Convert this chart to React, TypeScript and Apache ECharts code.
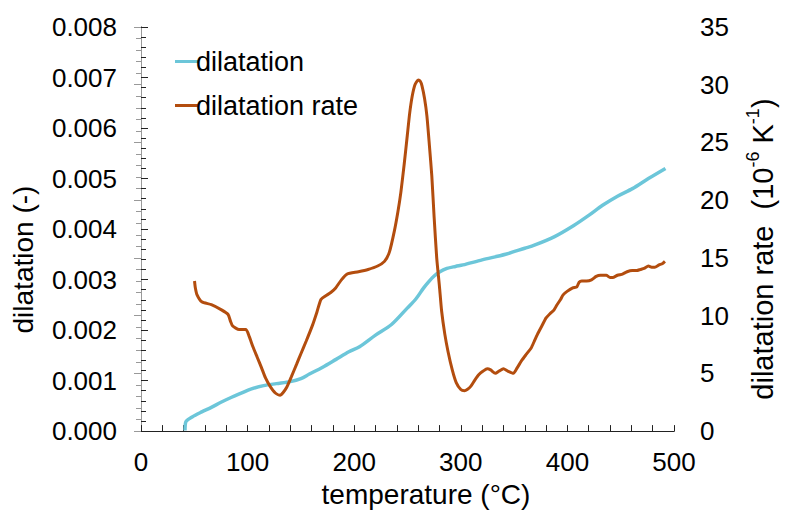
import React, { useEffect, useRef } from "react";
import * as echarts from "echarts";

// Dilatation (left axis) — temperature (°C) and value (-)
const dilTemp = [41.3, 42, 48, 57, 66, 75, 85, 94, 103, 115, 127, 140, 150, 158, 170, 183, 195, 205, 220, 235, 250, 258, 265, 270, 275, 280, 287, 295, 302, 320, 342, 360, 369, 388, 406, 420, 433, 447, 461, 476, 492];
const dilValue = [0.00001, 0.00018, 0.00028, 0.00038, 0.00047, 0.00057, 0.00067, 0.00075, 0.00083, 0.0009, 0.00094, 0.00098, 0.00104, 0.00113, 0.00126, 0.00142, 0.00157, 0.00167, 0.0019, 0.00211, 0.00244, 0.00262, 0.00283, 0.00296, 0.00307, 0.00315, 0.00322, 0.00326, 0.00329, 0.00339, 0.0035, 0.00362, 0.00368, 0.00385, 0.00407, 0.00427, 0.00447, 0.00465, 0.0048, 0.005, 0.0052];

// Dilatation rate (right axis) — temperature (°C) and value (10^-6 K^-1)
const rateTemp = [50.2, 51, 52.6, 57, 66, 75.5, 81.7, 84, 86, 92, 98.5, 101.5, 105, 109, 113, 116.8, 121, 126, 130.6, 133, 136.7, 141, 146, 150, 155, 161, 165, 168.8, 173, 178, 182.6, 188, 193.3, 204, 213, 222, 228.4, 233, 237.6, 241, 243.8, 247, 249.8, 252, 254.4, 257, 260, 262, 263.6, 266, 268.2, 270.5, 272.8, 275, 277.4, 280, 282, 285, 288, 292, 295.7, 300, 303.4, 306, 309.5, 313, 317, 321, 324.8, 328, 332.4, 336, 340, 344, 349.3, 353, 357, 361, 366, 369, 372, 376, 380, 384, 387.5, 390, 393.6, 396, 399.7, 405, 408.9, 411, 413.5, 418, 422.6, 427, 431, 436.4, 440, 442.5, 447, 451.7, 456, 460.8, 465, 468.5, 472, 476, 479, 482, 486, 489, 491.5];
const rateValue = [13.0, 12.4, 11.8, 11.2, 10.95, 10.5, 10.1, 9.5, 9.1, 8.8, 8.8, 8.2, 7.3, 6.4, 5.5, 4.6, 3.9, 3.3, 3.1, 3.3, 3.8, 4.7, 5.8, 6.7, 7.8, 9.2, 10.3, 11.4, 11.7, 12.0, 12.4, 13.1, 13.6, 13.8, 14.0, 14.3, 14.7, 15.5, 17.3, 19.0, 20.7, 23.2, 25.6, 27.5, 29.0, 30.0, 30.4, 30.3, 29.9, 28.8, 27.3, 24.8, 22.1, 18.5, 15.0, 12.5, 10.4, 8.4, 6.9, 5.3, 4.2, 3.6, 3.5, 3.6, 3.9, 4.4, 4.9, 5.2, 5.4, 5.3, 5.0, 5.2, 5.4, 5.2, 5.0, 5.5, 6.1, 6.6, 7.2, 7.8, 8.4, 9.1, 9.8, 10.2, 10.5, 10.9, 11.4, 11.8, 12.1, 12.4, 12.5, 12.9, 13.0, 13.0, 13.1, 13.4, 13.5, 13.5, 13.3, 13.3, 13.5, 13.6, 13.8, 13.9, 13.9, 14.0, 14.1, 14.3, 14.2, 14.2, 14.4, 14.5, 14.7];

const seriesNames = ["dilatation", "dilatation rate"];
const colors = ["#6cc6d9", "#b34d0e"];

const FONT = "'Liberation Sans', Arial, sans-serif";

export default function App() {
  const ref = useRef<HTMLDivElement>(null);
  useEffect(() => {
    if (!ref.current) return;
    const chart = echarts.init(ref.current, undefined, { renderer: "svg" });
    const dilData = dilTemp.map((t, i) => [t, dilValue[i]]);
    const rateData = rateTemp.map((t, i) => [t, rateValue[i]]);
    const labelStyle = { color: "#000", fontSize: 26, fontFamily: FONT };
    const nameStyle = { color: "#000", fontSize: 28, fontFamily: FONT };
    chart.setOption({
      animation: false,
      textStyle: { fontFamily: FONT },
      grid: { left: 141, right: 99, top: 27, bottom: 79 },
      legend: {
        orient: "vertical",
        left: 170,
        top: 43,
        itemGap: 17,
        icon: "rect",
        itemWidth: 23,
        itemHeight: 3,
        textStyle: { color: "#000", fontSize: 27, fontFamily: FONT, padding: [0, 0, 0, -7] },
        data: seriesNames,
      },
      xAxis: [
        {
          type: "value",
          min: 0,
          max: 500,
          interval: 100,
          position: "bottom",
          name: "temperature (°C)",
          nameLocation: "middle",
          nameGap: 46,
          nameTextStyle: { ...nameStyle, padding: [0, 0, 0, 37] },
          axisLine: { lineStyle: { color: "#222", width: 1 } },
          axisTick: { inside: true, length: 6, lineStyle: { color: "#222" } },
          minorTick: { show: true, splitNumber: 5, length: 6, lineStyle: { color: "#222" } },
          axisLabel: { ...labelStyle, margin: 18 },
          splitLine: { show: false },
        },
        {
          type: "value",
          min: 0,
          max: 500,
          position: "top",
          axisLine: { show: true, lineStyle: { color: "#222", width: 1 } },
          axisTick: { show: false },
          axisLabel: { show: false },
          splitLine: { show: false },
        },
      ],
      yAxis: [
        {
          type: "value",
          min: 0,
          max: 0.008,
          interval: 0.001,
          position: "left",
          name: "dilatation (-)",
          nameLocation: "middle",
          nameRotate: 90,
          nameGap: 104,
          nameTextStyle: { ...nameStyle, padding: [0, 61, 0, 0] },
          axisLine: { show: true, lineStyle: { color: "#222", width: 1 } },
          axisTick: { inside: true, length: 7, lineStyle: { color: "#222" } },
          minorTick: { show: true, splitNumber: 5, length: 5, lineStyle: { color: "#222" } },
          axisLabel: { ...labelStyle, margin: 24, formatter: (v: number) => v.toFixed(3) },
          splitLine: { show: false },
        },
        {
          type: "value",
          min: 0,
          max: 35,
          interval: 5,
          position: "right",
          name: "{n|dilatation rate  (10}{s|-6}{n| K}{s|-1}{n|)}",
          nameLocation: "middle",
          nameRotate: 90,
          nameGap: 70,
          nameTextStyle: {
            ...nameStyle,
            padding: [0, 40, 0, 0],
            rich: {
              n: { fontSize: 29, fontFamily: FONT, color: "#000", lineHeight: 33, verticalAlign: "bottom" },
              s: { fontSize: 18, fontFamily: FONT, color: "#000", lineHeight: 33, verticalAlign: "top" },
            },
          },
          axisLine: { show: true, lineStyle: { color: "#999", width: 1 } },
          axisTick: { inside: true, length: 7, lineStyle: { color: "#999" } },
          minorTick: { show: true, splitNumber: 5, length: 5, lineStyle: { color: "#999" } },
          axisLabel: { ...labelStyle, margin: 26 },
          splitLine: { show: false },
        },
      ],
      series: [
        {
          name: seriesNames[0],
          type: "line",
          xAxisIndex: 0,
          yAxisIndex: 0,
          data: dilData,
          showSymbol: false,
          symbol: "none",
          smooth: 0.3,
          lineStyle: { color: colors[0], width: 3.5 },
          itemStyle: { color: colors[0] },
        },
        {
          name: seriesNames[1],
          type: "line",
          xAxisIndex: 0,
          yAxisIndex: 1,
          data: rateData,
          showSymbol: false,
          symbol: "none",
          smooth: 0.2,
          lineStyle: { color: colors[1], width: 3 },
          itemStyle: { color: colors[1] },
        },
      ],
    });
    return () => chart.dispose();
  }, []);
  return <div ref={ref} style={{ width: 785, height: 513, position: "absolute", left: 0, top: 0 }} />;
}
